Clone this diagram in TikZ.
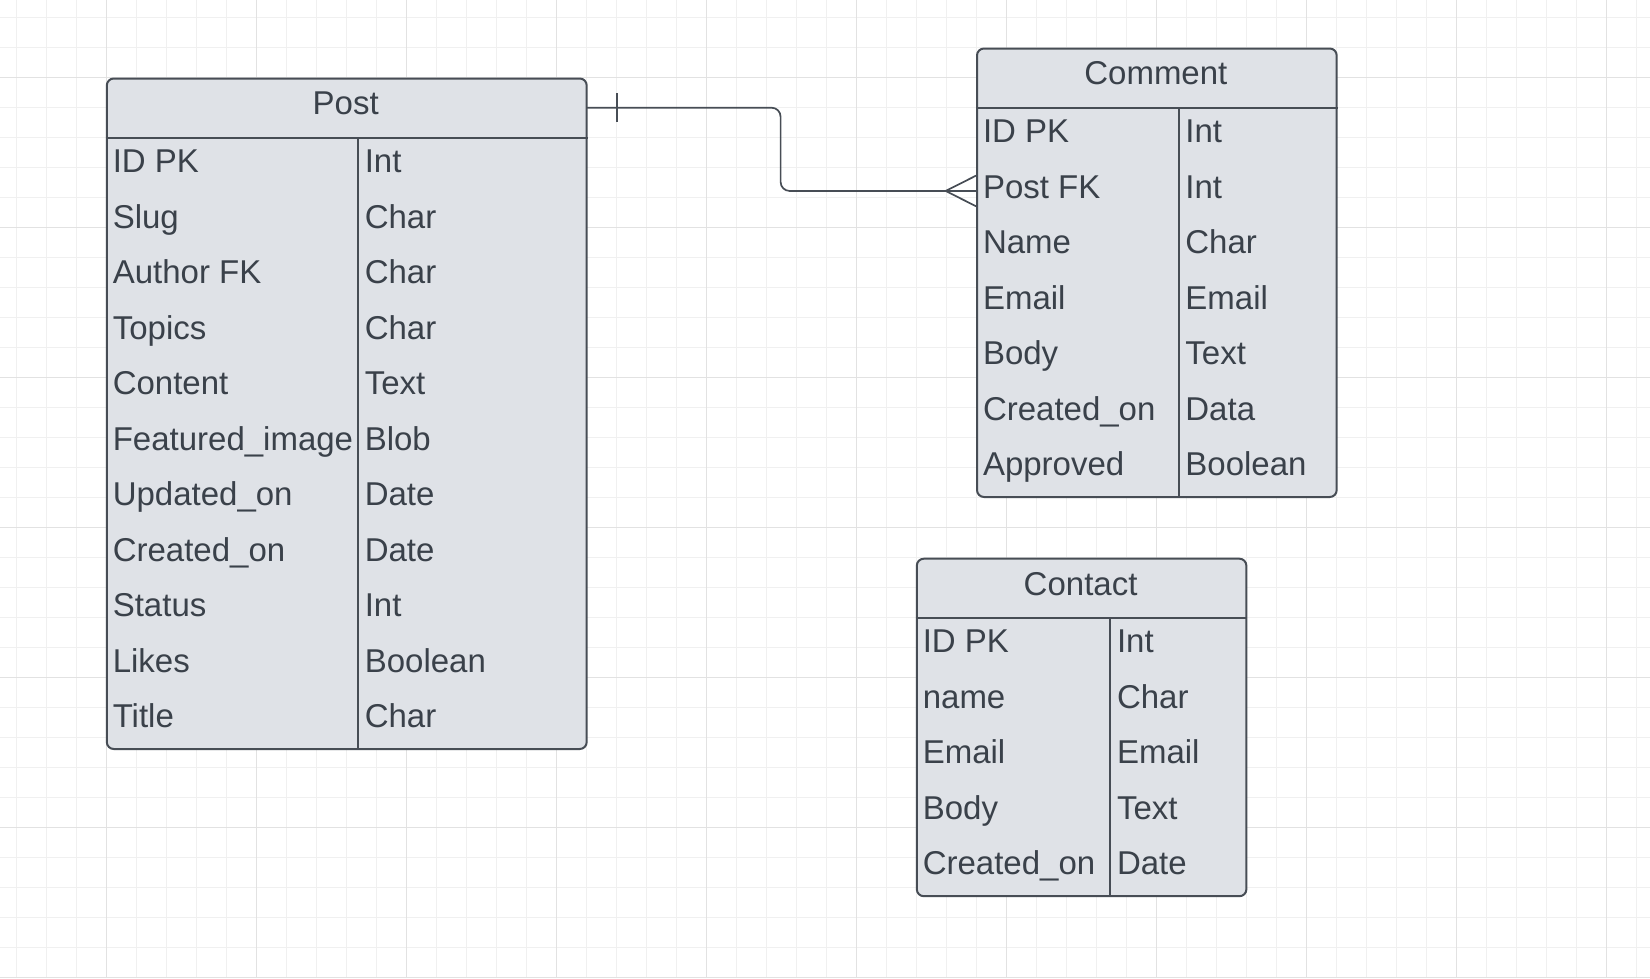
\documentclass[tikz,border=0pt]{standalone}
\usepackage{fontspec}
\setmainfont{Liberation Sans}
\definecolor{boxfill}{HTML}{DFE2E7}
\definecolor{boxline}{HTML}{474D55}
\definecolor{txtcol}{HTML}{3A414A}
\definecolor{gridminor}{HTML}{F0F0F0}
\definecolor{gridmajor}{HTML}{E2E2E2}
\tikzset{
  tablebox/.style={draw=boxline, fill=boxfill, line width=2pt, rounded corners=7pt, rectangle, inner sep=0pt},
  headbox/.style={rectangle, inner sep=0pt},
  rowbox/.style={rectangle, inner sep=0pt},
  sepline/.style={draw=boxline, line width=2pt},
  titletext/.style={text=txtcol, inner sep=0pt, font=\fontsize{33}{40}\selectfont},
  fieldtext/.style={text=txtcol, inner sep=0pt, font=\fontsize{33}{40}\selectfont},
  relline/.style={draw=boxline, line width=1.7pt},
  gridminorline/.style={draw=gridminor, line width=1pt},
  gridmajorline/.style={draw=gridmajor, line width=1pt}
}
% #1 name, #2 left, #3 right, #4 top, #5 divider x, #6 title, #7 number of rows, #8 rows
\newcommand\erdtable[8]{%
  \pgfmathsetmacro\hbot{#4+60}%
  \pgfmathsetmacro\tbot{#4+60+55.5*#7}%
  \node[tablebox, minimum width={#3-#2}, minimum height={\tbot-#4}, anchor=north west] (#1) at (#2,#4) {};
  \node[headbox, minimum width={#3-#2}, minimum height=60, anchor=north west] (#1-h) at (#2,#4) {};
  \node[titletext, anchor=base] (#1-title) at ({(#2+#3)/2},{#4+37.3}) {#6};
  \draw[sepline] (#1.west |- #1-h.south) -- (#1.east |- #1-h.south);
  \draw[sepline] (#5,\hbot) -- (#5,\tbot);
  \foreach \fn/\ft [count=\i] in {#8} {
    \node[rowbox, minimum width={#3-#2}, minimum height=55.5, anchor=north west] (#1-r\i) at (#2,{\hbot+55.5*(\i-1)}) {};
    \node[fieldtext, anchor=base west] (#1-n\i) at ({#2+6.8},{\hbot+55.5*\i-20.5}) {\fn};
    \node[fieldtext, anchor=base west] (#1-t\i) at ({#5+6.6},{\hbot+55.5*\i-20.5}) {\ft};
  }
}
\begin{document}
\begin{tikzpicture}[x=1pt,y=-1pt]
\useasboundingbox (0,0) rectangle (1650,978);
\fill[white] (0,0) rectangle (1650,978);
% grid
\foreach \k in {0,...,54} \draw[gridminorline] ({16+30*\k},0) -- ({16+30*\k},978);
\foreach \k in {0,...,32} \draw[gridminorline] (0,{17.3+30*\k}) -- (1650,{17.3+30*\k});
\foreach \k in {0,...,10} \draw[gridmajorline] ({106+150*\k},0) -- ({106+150*\k},978);
\foreach \k in {0,...,6} \draw[gridmajorline] (0,{77.3+150*\k}) -- (1650,{77.3+150*\k});
% tables
\erdtable{post}{105.8}{585.7}{77.5}{358}{Post}{11}{ID PK/Int, Slug/Char, Author FK/Char, Topics/Char, Content/Text, Featured\_image/Blob, Updated\_on/Date, Created\_on/Date, Status/Int, Likes/Boolean, Title/Char}
\erdtable{comment}{976}{1335.7}{47.5}{1178.6}{Comment}{7}{ID PK/Int, Post FK/Int, Name/Char, Email/Email, Body/Text, Created\_on/Data, Approved/Boolean}
\erdtable{contact}{915.8}{1245.4}{557.7}{1110.2}{Contact}{5}{ID PK/Int, name/Char, Email/Email, Body/Text, Created\_on/Date}
% relationship
\coordinate (bend) at (780.6,191);
\draw[relline, rounded corners=9pt] (post-h.east) -| (bend |- comment-r2.west) -- (comment-r2.west);
\draw[relline] ([xshift=31pt,yshift=14.5pt]post-h.east) -- ([xshift=31pt,yshift=-14.5pt]post-h.east);
\draw[relline] ([yshift=15.3pt]comment-r2.west) -- ([xshift=-30.3pt]comment-r2.west) -- ([yshift=-15.3pt]comment-r2.west);
\end{tikzpicture}
\end{document}
